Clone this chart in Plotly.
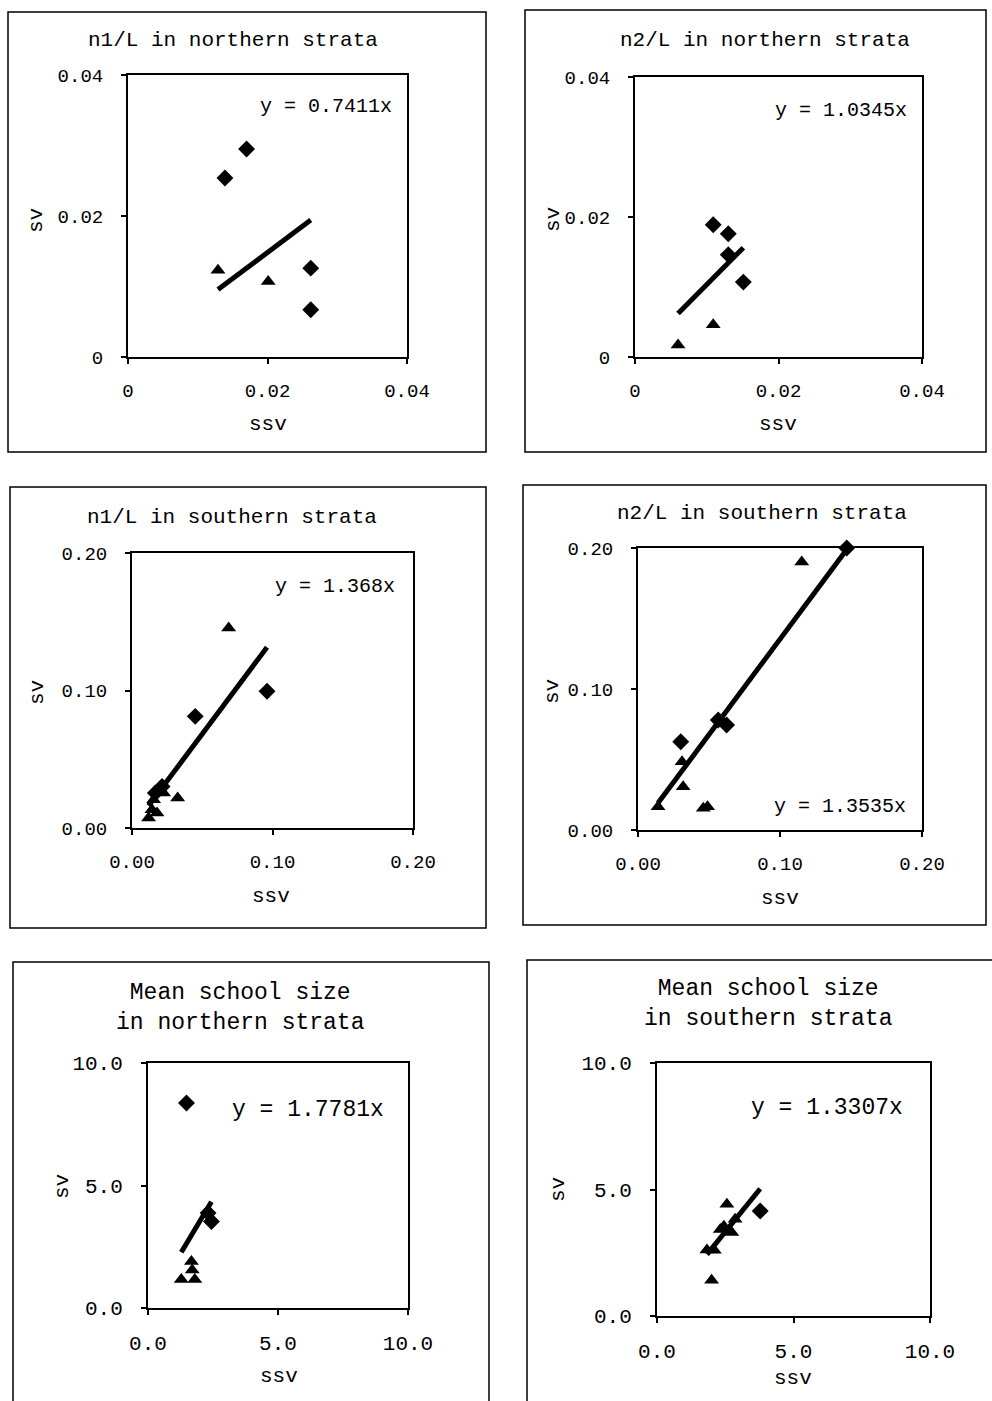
import plotly.graph_objects as go

W, H = 992, 1401

# ---------------- data ----------------
titles = ["n1/L in northern strata", "n2/L in northern strata",
          "n1/L in southern strata", "n2/L in southern strata",
          "Mean school size<br>in northern strata", "Mean school size<br>in southern strata"]
slopes = [0.7411, 1.0345, 1.368, 1.3535, 1.7781, 1.3307]
eq_labels = ["y = 0.7411x", "y = 1.0345x", "y = 1.368x", "y = 1.3535x", "y = 1.7781x", "y = 1.3307x"]

p1_dia_x = [0.0139, 0.0170, 0.0262, 0.0262]
p1_dia_y = [0.0254, 0.0295, 0.0126, 0.0067]
p1_tri_x = [0.0129, 0.0201]
p1_tri_y = [0.0123, 0.0107]

p2_dia_x = [0.0109, 0.0130, 0.0130, 0.0151]
p2_dia_y = [0.0189, 0.0176, 0.0146, 0.0107]
p2_tri_x = [0.0109, 0.0060]
p2_tri_y = [0.0046, 0.0017]

p3_dia_x = [0.0961, 0.0450, 0.0166, 0.0214]
p3_dia_y = [0.0994, 0.0812, 0.0255, 0.0302]
p3_tri_x = [0.0688, 0.0325, 0.0118, 0.0178, 0.0142, 0.0154, 0.0225]
p3_tri_y = [0.1455, 0.0218, 0.0073, 0.0109, 0.0133, 0.0206, 0.0255]

p4_dia_x = [0.147, 0.0565, 0.0624, 0.0301]
p4_dia_y = [0.200, 0.078, 0.0745, 0.0626]
p4_tri_x = [0.1153, 0.031, 0.0318, 0.049, 0.046, 0.0141]
p4_tri_y = [0.190, 0.0484, 0.0307, 0.0165, 0.0155, 0.0165]

p5_dia_x = [1.48, 2.31, 2.44]
p5_dia_y = [8.37, 3.88, 3.53]
p5_tri_x = [1.67, 1.70, 1.28, 1.80]
p5_tri_y = [1.90, 1.55, 1.16, 1.16]

p6_dia_x = [3.78]
p6_dia_y = [4.15]
p6_tri_x = [2.56, 2.86, 2.32, 2.74, 1.83, 2.10, 2.00, 2.45]
p6_tri_y = [4.42, 3.82, 3.42, 3.30, 2.61, 2.60, 1.41, 3.55]

tick_vals_small = [0, 0.02, 0.04]
tick_text_small = ["0", "0.02", "0.04"]
tick_vals_mid = [0, 0.1, 0.2]
tick_text_mid = ["0.00", "0.10", "0.20"]
tick_vals_big = [0, 5, 10]
tick_text_big = ["0.0", "5.0", "10.0"]

dia_x = [p1_dia_x, p2_dia_x, p3_dia_x, p4_dia_x, p5_dia_x, p6_dia_x]
dia_y = [p1_dia_y, p2_dia_y, p3_dia_y, p4_dia_y, p5_dia_y, p6_dia_y]
tri_x = [p1_tri_x, p2_tri_x, p3_tri_x, p4_tri_x, p5_tri_x, p6_tri_x]
tri_y = [p1_tri_y, p2_tri_y, p3_tri_y, p4_tri_y, p5_tri_y, p6_tri_y]
ticks = [(tick_vals_small, tick_text_small)] * 2 + [(tick_vals_mid, tick_text_mid)] * 2 + [(tick_vals_big, tick_text_big)] * 2

# ---------------- layout geometry (pixels) ----------------
boxes = [(128, 407, 75, 357), (635, 922, 77, 357),
         (132, 413, 553, 828), (638, 922, 548, 830),
         (148, 408, 1063, 1308), (657, 930, 1063, 1316)]
frames = [(8, 486, 12, 452), (525, 986, 10, 452),
          (10, 486, 487, 928), (523, 986, 485, 925),
          (13, 489, 962, 1410), (527, 1000, 960, 1410)]
title_pos = [(233, 40), (765, 40), (232, 517), (762, 513), (240, 1008), (768, 1004)]
eq_pos = [(326, 107), (841, 110), (335, 586), (840, 806), (308, 1110), (827, 1108)]
ssv_pos = [(268, 425), (778, 425), (271, 896), (780, 898), (279, 1376), (793, 1378)]
sv_pos = [(37, 221), (553, 220), (37, 693), (552, 692), (62, 1187), (558, 1190)]

MONO = "Liberation Mono"
fs_tick = [19, 19, 19, 19, 21, 21]
fs_title = [21, 21, 21, 21, 23, 23]
fs_eq = [20, 20, 20, 20, 23, 23]

def px(x):
    return x / W

def py(y):
    return 1 - y / H

fig = go.Figure()
annotations = []
shapes = []
layout_axes = {}

for i in range(6):
    n = "" if i == 0 else str(i + 1)
    xa, ya = "x" + n, "y" + n
    l, r, t, b = boxes[i]
    tv, tt = ticks[i]
    rng = [tv[0], tv[-1]]
    common = dict(range=rng, tickvals=tv, ticktext=tt, showline=True, mirror=True,
                  linecolor="black", linewidth=2, ticks="outside", ticklen=5, tickwidth=1.5,
                  tickcolor="black", showgrid=False, zeroline=False, automargin=False,
                  tickfont=dict(family=MONO, size=fs_tick[i], color="black"))
    layout_axes["xaxis" + n] = dict(domain=[px(l), px(r)], anchor=ya, ticklabelstandoff=10, **common)
    layout_axes["yaxis" + n] = dict(domain=[py(b), py(t)], anchor=xa, ticklabelstandoff=14, **common)

    xs_all = dia_x[i] + tri_x[i]
    lx = [min(xs_all), max(xs_all)]
    ly = [slopes[i] * v for v in lx]
    fig.add_trace(go.Scatter(x=lx, y=ly, mode="lines", xaxis=xa, yaxis=ya,
                             line=dict(color="black", width=5), showlegend=False, hoverinfo="skip"))
    fig.add_trace(go.Scatter(x=tri_x[i], y=tri_y[i], mode="markers", xaxis=xa, yaxis=ya, cliponaxis=False,
                             marker=dict(symbol="triangle-up", size=13, color="black"), showlegend=False))
    fig.add_trace(go.Scatter(x=dia_x[i], y=dia_y[i], mode="markers", xaxis=xa, yaxis=ya, cliponaxis=False,
                             marker=dict(symbol="diamond", size=13, color="black"), showlegend=False))

    fl, fr, ft, fb = frames[i]
    shapes.append(dict(type="rect", xref="paper", yref="paper", x0=px(fl), x1=px(fr), y0=py(fb), y1=py(ft),
                       line=dict(color="black", width=1.5), fillcolor="rgba(0,0,0,0)", layer="below"))

    tx, ty = title_pos[i]
    annotations.append(dict(text=titles[i], xref="paper", yref="paper", x=px(tx), y=py(ty),
                            xanchor="center", yanchor="middle", showarrow=False,
                            font=dict(family=MONO, size=fs_title[i], color="black")))
    ex, ey = eq_pos[i]
    annotations.append(dict(text=eq_labels[i], xref="paper", yref="paper", x=px(ex), y=py(ey),
                            xanchor="center", yanchor="middle", showarrow=False,
                            font=dict(family=MONO, size=fs_eq[i], color="black")))
    sx, sy = ssv_pos[i]
    annotations.append(dict(text="ssv", xref="paper", yref="paper", x=px(sx), y=py(sy),
                            xanchor="center", yanchor="middle", showarrow=False,
                            font=dict(family=MONO, size=21, color="black")))
    vx, vy = sv_pos[i]
    annotations.append(dict(text="sv", xref="paper", yref="paper", x=px(vx), y=py(vy), textangle=-90,
                            xanchor="center", yanchor="middle", showarrow=False,
                            font=dict(family=MONO, size=21, color="black")))

fig.update_layout(width=W, height=H, margin=dict(l=0, r=0, t=0, b=0, pad=0, autoexpand=False),
                  paper_bgcolor="white", plot_bgcolor="white", template="none",
                  annotations=annotations, shapes=shapes, **layout_axes)

fig.write_html("out.html", config={"displayModeBar": False},
               post_script="document.body.style.margin='0';document.body.style.overflow='hidden';")
